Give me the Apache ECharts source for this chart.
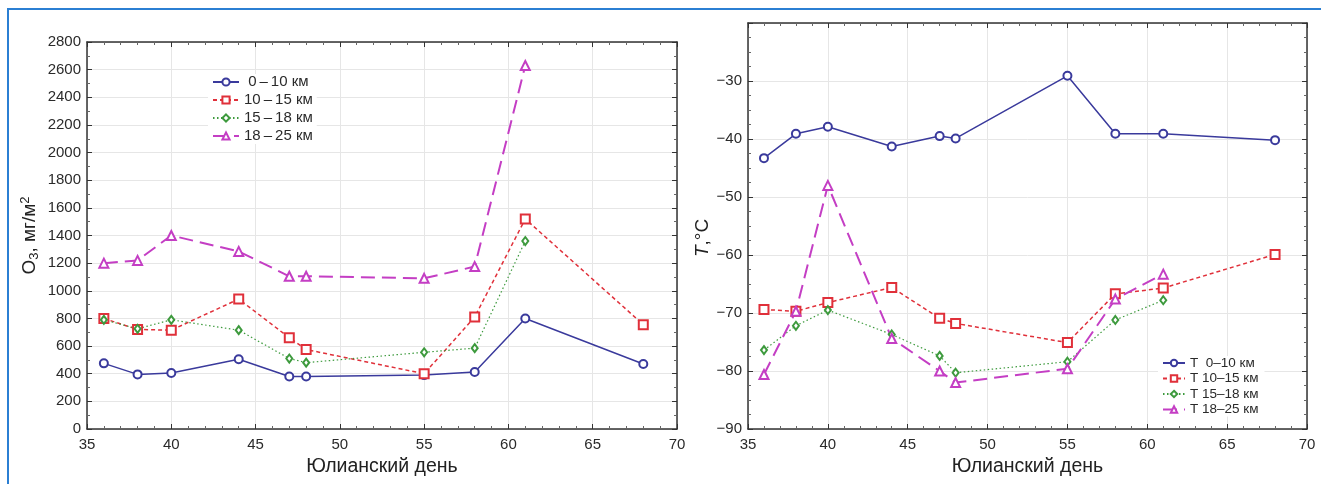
<!doctype html>
<html lang="ru">
<head>
<meta charset="UTF-8">
<title>O3 и температура по юлианским дням</title>
<style>
html, body { margin: 0; padding: 0; background: #fff; }
#frame { position: absolute; left: 7px; top: 8px; width: 1320px; height: 480px;
         border-top: 2px solid #2b7fd3; border-left: 2px solid #2b7fd3; }
#main { position: absolute; left: 0; top: 0; width: 1321px; height: 484px; }
</style>
</head>
<body>
<div id="frame"></div>
<div id="main"></div>
<script src="https://cdn.jsdelivr.net/npm/echarts@6/dist/echarts.min.js"></script>
<script>
// юлианские дни
var days = [36, 38, 40, 44, 47, 48, 55, 58, 61, 68];

// O3, мг/м2
var o3_0_10  = [475, 395, 405, 505, 380, 380, 390, 412, 800, 470];
var o3_10_15 = [800, 720, 715, 940, 660, 575, 400, 810, 1520, 755];
var o3_15_18 = [790, 725, 790, 715, 510, 480, 555, 585, 1360];
var o3_18_25 = [1200, 1220, 1400, 1285, 1105, 1105, 1090, 1175, 2630];

// T, °C
var t_0_10  = [-43.3, -39.1, -37.9, -41.3, -39.5, -39.9, -29.1, -39.1, -39.1, -40.2];
var t_10_15 = [-69.4, -69.7, -68.2, -65.6, -70.9, -71.8, -75.1, -66.7, -65.7, -59.9];
var t_15_18 = [-76.4, -72.2, -69.5, -73.7, -77.4, -80.3, -78.4, -71.2, -67.8];
var t_18_25 = [-80.6, -69.7, -48.0, -74.4, -80.0, -82.0, -79.6, -67.6, -63.3];

var namesO3 = ['0\u2009\u2013\u200910 км', '10\u2009\u2013\u200915 км', '15\u2009\u2013\u200918 км', '18\u2009\u2013\u200925 км'];
var namesT  = ['T  0\u201310 км', 'T 10\u201315 км', 'T 15\u201318 км', 'T 18\u201325 км'];

var font = '"Liberation Sans", Arial, sans-serif';
var blue = '#3a3a9c', red = '#e0303a', green = '#3d9a3d', magenta = '#c43ec4';

function pairs(xs, ys) {
    var out = [];
    for (var i = 0; i < ys.length; i++) out.push([xs[i], ys[i]]);
    return out;
}

function xAx(grid, pos) {
    var bottom = pos === 'bottom';
    return {
        type: 'value', gridIndex: grid, position: pos, min: 35, max: 70, interval: 5,
        name: bottom ? 'Юлианский день' : '', nameLocation: 'middle', nameGap: 28,
        nameTextStyle: { fontSize: 19.5, color: '#222', fontFamily: font },
        axisLine: { show: true, onZero: false, lineStyle: { color: '#333', width: 1.5 } },
        axisTick: { show: true, inside: true, length: 5, lineStyle: { color: '#333' } },
        minorTick: { show: true, splitNumber: 5, length: 3, lineStyle: { color: '#666' } },
        axisLabel: { show: bottom, margin: 8, fontSize: 15, color: '#2a2a2a', fontFamily: font },
        splitLine: { show: bottom, lineStyle: { color: '#e6e6e6' } }
    };
}

function yAx(grid, pos, min, max, step, minor) {
    var left = pos === 'left';
    return {
        type: 'value', gridIndex: grid, position: pos, min: min, max: max, interval: step,
        axisLine: { show: true, onZero: false, lineStyle: { color: '#333', width: 1.5 } },
        axisTick: { show: true, inside: true, length: 5, lineStyle: { color: '#333' } },
        minorTick: { show: true, splitNumber: minor, length: 3, lineStyle: { color: '#666' } },
        axisLabel: { show: left, margin: 6, fontSize: 15, color: '#2a2a2a', fontFamily: font,
                     formatter: function (v) { return String(v); } },
        splitLine: { show: left, lineStyle: { color: '#e6e6e6' } }
    };
}

var yO3 = yAx(0, 'left', 0, 2800, 200, 2);
yO3.name = '{a|O}{s|3}{a|, мг/м}{p|2}';
yO3.nameLocation = 'middle';
yO3.nameGap = 46;
yO3.nameTextStyle = { color: '#222', fontFamily: font, rich: {
    a: { fontSize: 19, fontFamily: font, color: '#222', lineHeight: 22 },
    s: { fontSize: 13, fontFamily: font, color: '#222', verticalAlign: 'bottom', lineHeight: 12 },
    p: { fontSize: 13, fontFamily: font, color: '#222', verticalAlign: 'top', lineHeight: 12 }
} };

var yT = yAx(1, 'left', -90, -20, 10, 4);
yT.axisLabel.formatter = function (v) {
    if (v === -20) return '';
    return v < 0 ? '\u2212' + Math.abs(v) : String(v);
};
yT.name = '{i|T}{a|,°C}';
yT.nameLocation = 'middle';
yT.nameGap = 30;
yT.nameTextStyle = { color: '#222', fontFamily: font, padding: [0, 0, 0, -24], rich: {
    i: { fontSize: 19, fontStyle: 'italic', fontFamily: font, color: '#222' },
    a: { fontSize: 19, fontFamily: font, color: '#222' }
} };

function line(name, data, xi, yi, color, symbol, size, dash, width) {
    return {
        name: name, type: 'line', xAxisIndex: xi, yAxisIndex: yi, data: data,
        symbol: symbol, symbolSize: size, showAllSymbol: true,
        lineStyle: { color: color, width: width, type: dash },
        itemStyle: { color: color, borderWidth: 1.5 },
        emphasis: { disabled: true }
    };
}

var myChart = echarts.init(document.getElementById('main'));

var option = {
    animation: false,
    grid: [
        { left: 87, top: 42, width: 590, height: 387 },
        { left: 748, top: 23, width: 559, height: 406 }
    ],
    xAxis: [xAx(0, 'bottom'), xAx(0, 'top'), xAx(1, 'bottom'), xAx(1, 'top')],
    yAxis: [yO3, yAx(0, 'right', 0, 2800, 200, 2), yT, yAx(1, 'right', -90, -20, 10, 4)],
    legend: [
        {
            data: namesO3, orient: 'vertical', left: 208, top: 74,
            itemWidth: 26, itemHeight: 9, itemGap: 2, padding: [0, 4, 0, 4],
            backgroundColor: '#fff',
            textStyle: { fontSize: 15, lineHeight: 16, color: '#2a2a2a', fontFamily: font },
            formatter: function (n) { return n === namesO3[0] ? ' ' + n : n; }
        },
        {
            data: namesT, orient: 'vertical', left: 1158, top: 356,
            itemWidth: 22, itemHeight: 8, itemGap: 1.5, padding: [0, 6, 0, 4],
            backgroundColor: '#fff',
            textStyle: { fontSize: 13.5, lineHeight: 14, color: '#2a2a2a', fontFamily: font }
        }
    ],
    series: [
        line(namesO3[0], pairs(days, o3_0_10), 0, 0, blue, 'emptyCircle', 8, 'solid', 1.5),
        line(namesO3[1], pairs(days, o3_10_15), 0, 0, red, 'emptyRect', 9, [4, 3], 1.5),
        line(namesO3[2], pairs(days, o3_15_18), 0, 0, green, 'emptyDiamond', [6, 8], [1.5, 2.5], 1.2),
        line(namesO3[3], pairs(days, o3_18_25), 0, 0, magenta, 'emptyTriangle', 9, [14, 7], 2),
        line(namesT[0], pairs(days, t_0_10), 2, 2, blue, 'emptyCircle', 8, 'solid', 1.5),
        line(namesT[1], pairs(days, t_10_15), 2, 2, red, 'emptyRect', 9, [4, 3], 1.5),
        line(namesT[2], pairs(days, t_15_18), 2, 2, green, 'emptyDiamond', [6, 8], [1.5, 2.5], 1.2),
        line(namesT[3], pairs(days, t_18_25), 2, 2, magenta, 'emptyTriangle', 9, [14, 7], 2)
    ]
};

myChart.setOption(option);
</script>
</body>
</html>
